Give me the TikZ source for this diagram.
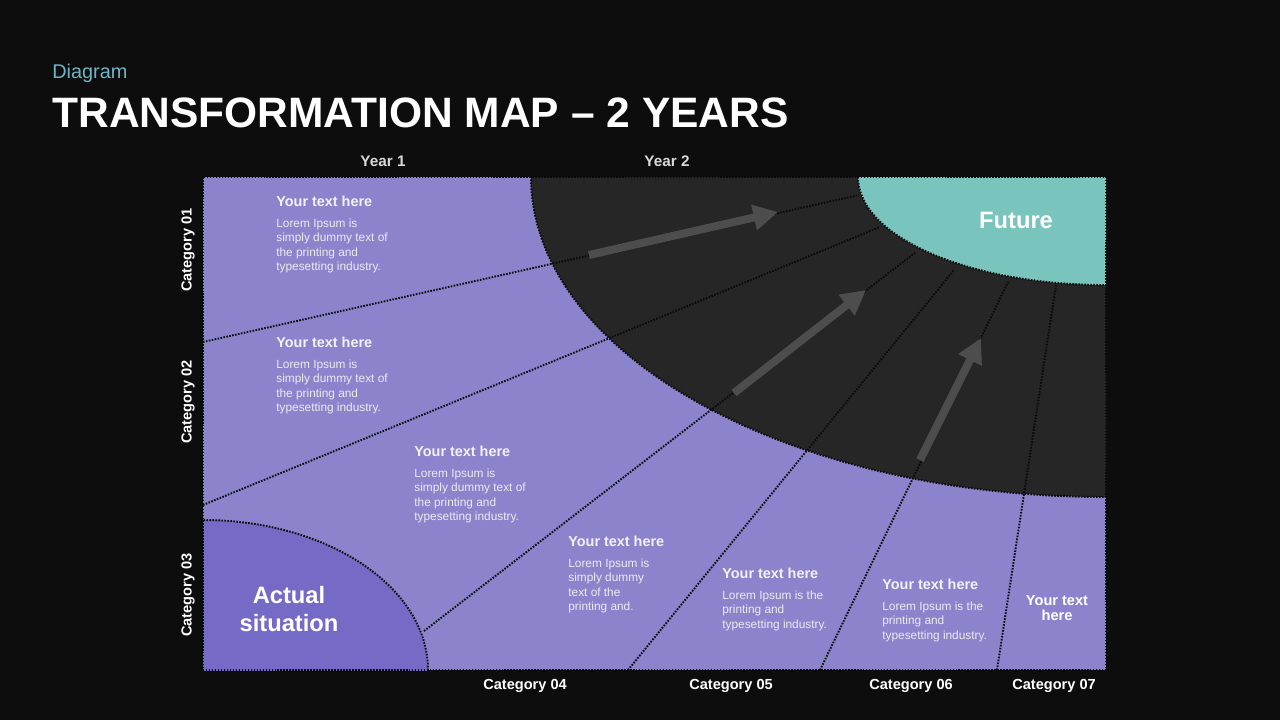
\documentclass[tikz,border=0pt]{standalone}
\usepackage{fontspec}
\setmainfont{Liberation Sans}
\usetikzlibrary{arrows.meta}

\definecolor{bgdark}{HTML}{0D0D0D}
\definecolor{mappurple}{HTML}{8B84CD}
\definecolor{actualpurple}{HTML}{756AC6}
\definecolor{ringdark}{HTML}{262626}
\definecolor{futureteal}{HTML}{79C4BC}
\definecolor{arrowgrey}{HTML}{4D4D4D}
\definecolor{kickerblue}{HTML}{6FB5C8}
\definecolor{dotline}{HTML}{0A0A0A}

\tikzset{
  dotborder/.style={draw=dotline, line width=1.1pt, dash pattern=on 0.9pt off 0.8pt},
  growarrow/.style={draw=arrowgrey, line width=4.5pt, -{Triangle[length=14pt,width=14pt]}},
  boxtitle/.style={anchor=base west, inner sep=0pt, text=white!95!black, font=\bfseries\fontsize{8.2}{10}\selectfont},
  boxbody/.style={anchor=north west, inner sep=0pt, align=left, text=white!92!black, font=\fontsize{6.75}{8.2}\selectfont},
  catlabel/.style={inner sep=0pt, text=white, font=\bfseries\fontsize{8.3}{10}\selectfont},
  yearlabel/.style={inner sep=0pt, text=white!85!black, font=\bfseries\fontsize{8.7}{10}\selectfont},
  bigwhite/.style={inner sep=0pt, text=white, align=center, font=\bfseries\fontsize{13.5}{16}\selectfont}
}

\begin{document}
\begin{tikzpicture}[x=0.02cm, y=-0.02cm]
    \fill[bgdark] (0,0) rectangle (1280,720);
    \useasboundingbox (0,0) rectangle (1280,720);

    % heading
    \node[anchor=base west, inner sep=0pt, text=kickerblue, font=\fontsize{11.3}{13}\selectfont] (kicker) at (52,78) {Diagram};
    \node[anchor=base west, inner sep=0pt, text=white, font=\bfseries\fontsize{24.2}{28}\selectfont] (title) at (52,127) {TRANSFORMATION MAP -- 2 YEARS};

    % field and zones
    \fill[mappurple] (203,177) rectangle (1106,670);
    \begin{scope}
        \clip (203,177) rectangle (1106,670);
        \fill[ringdark] (1106,177) ellipse [x radius=575, y radius=320];
        \draw[dotborder] (1106,177) ellipse [x radius=575, y radius=320];

        \draw[dotborder] (203,342) -- (859,195);
        \draw[dotborder] (203,505) -- (880,227);
        \draw[dotborder] (424,631) -- (916,252);
        \draw[dotborder] (628,670) -- (954,270);
        \draw[dotborder] (820,670) -- (1008,282);
        \draw[dotborder] (997,670) -- (1056,285);

        \fill[futureteal] (1106,177) ellipse [x radius=248, y radius=108];
        \draw[dotborder] (1106,177) ellipse [x radius=248, y radius=108];

        \fill[actualpurple] (203,670) ellipse [x radius=225, y radius=150];
        \draw[dotborder] (203,670) ellipse [x radius=225, y radius=150];
    \end{scope}
    \draw[dotborder] (203,177) rectangle (1106,670);

    % growth arrows
    \draw[growarrow] (589,255) -- (778,212);
    \draw[growarrow] (734,393) -- (866,290);
    \draw[growarrow] (920,460) -- (981,338);

    % axis labels
    \node[yearlabel] (year1) at (383,161) {Year 1};
    \node[yearlabel] (year2) at (667,161) {Year 2};

    \node[catlabel, rotate=90] (cat01) at (188,250) {Category 01};
    \node[catlabel, rotate=90] (cat02) at (188,402) {Category 02};
    \node[catlabel, rotate=90] (cat03) at (188,595) {Category 03};
    \node[catlabel] (cat04) at (525,686) {Category 04};
    \node[catlabel] (cat05) at (731,686) {Category 05};
    \node[catlabel] (cat06) at (911,686) {Category 06};
    \node[catlabel] (cat07) at (1054,686) {Category 07};

    % zone labels
    \node[bigwhite] (future) at (1016,220) {Future};
    \node[bigwhite] (actual) at (289,609) {Actual\\situation};

    % text blocks
    \node[boxtitle] (t1) at (276,206.5) {Your text here};
    \node[boxbody] (b1) at (276,218.5) {Lorem Ipsum is\\simply dummy text of\\the printing and\\typesetting industry.};

    \node[boxtitle] (t2) at (276,347.5) {Your text here};
    \node[boxbody] (b2) at (276,359.5) {Lorem Ipsum is\\simply dummy text of\\the printing and\\typesetting industry.};

    \node[boxtitle] (t3) at (414,456.5) {Your text here};
    \node[boxbody] (b3) at (414,468.5) {Lorem Ipsum is\\simply dummy text of\\the printing and\\typesetting industry.};

    \node[boxtitle] (t4) at (568,546.5) {Your text here};
    \node[boxbody] (b4) at (568,558.5) {Lorem Ipsum is\\simply dummy\\text of the\\printing and.};

    \node[boxtitle] (t5) at (722,578.5) {Your text here};
    \node[boxbody] (b5) at (722,590.5) {Lorem Ipsum is the\\printing and\\typesetting industry.};

    \node[boxtitle] (t6) at (882,589.5) {Your text here};
    \node[boxbody] (b6) at (882,601.5) {Lorem Ipsum is the\\printing and\\typesetting industry.};

    \node[catlabel, align=center, font=\bfseries\fontsize{8.3}{9}\selectfont] (t7) at (1057,608) {Your text\\here};
\end{tikzpicture}
\end{document}
